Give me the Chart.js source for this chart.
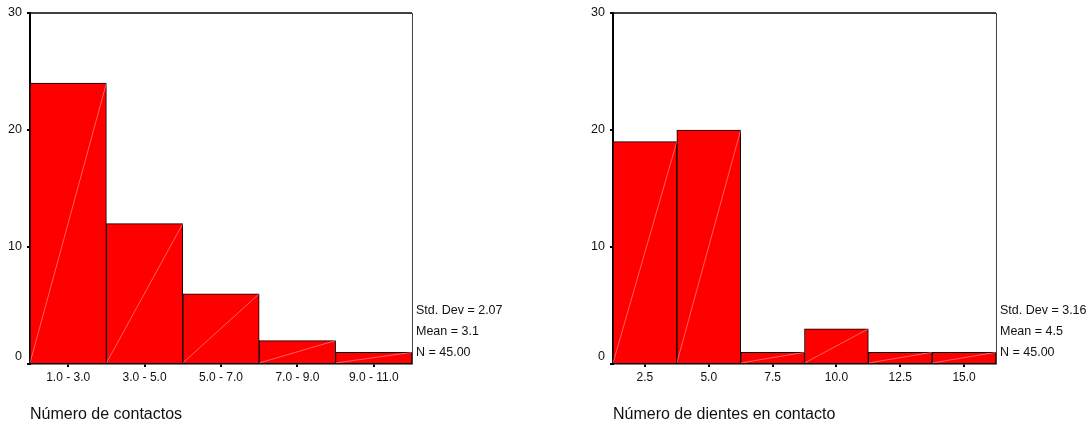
<!DOCTYPE html>
<html>
<head>
<meta charset="utf-8">
<script src="https://cdn.jsdelivr.net/npm/chart.js@4/dist/chart.umd.min.js"></script>
<style>
  html, body { margin: 0; padding: 0; background: #fff; }
  #wrap { position: relative; width: 1090px; height: 426px; overflow: hidden; }
  canvas { position: absolute; top: 0; }
  .stats { position: absolute; top: 300px; font: 12.5px "Liberation Sans", Arial, sans-serif; line-height: 21px; color: #111; white-space: nowrap; }
</style>
</head>
<body>
<div id="wrap">
  <canvas id="contactos" width="545" height="426" style="left:0"></canvas>
  <canvas id="dientes" width="545" height="426" style="left:545px"></canvas>
  <div class="stats" id="statsA" style="left:416px"></div>
  <div class="stats" id="statsB" style="left:1000px"></div>
</div>
<script>
// Número de contactos: class intervals and counts
const contactBins = ['1.0 - 3.0', '3.0 - 5.0', '5.0 - 7.0', '7.0 - 9.0', '9.0 - 11.0'];
const contactCounts = [24, 12, 6, 2, 1];
const contactStats = ['Std. Dev = 2.07', 'Mean = 3.1', 'N = 45.00'];

// Número de dientes en contacto: bin midpoints and counts
const teethBins = ['2.5', '5.0', '7.5', '10.0', '12.5', '15.0'];
const teethCounts = [19, 20, 1, 3, 1, 1];
const teethStats = ['Std. Dev = 3.16', 'Mean = 4.5', 'N = 45.00'];

// Shared frequency axis
const yTicks = [0, 10, 20, 30];

const FONT = '"Liberation Sans", Arial, sans-serif';

// Draws the faint diagonal in each bar plus the top/right frame of the plot
const framePlugin = {
  id: 'histFrame',
  afterDatasetsDraw(chart) {
    const { ctx } = chart;
    const meta = chart.getDatasetMeta(0);
    ctx.save();
    ctx.strokeStyle = 'rgba(255,255,255,0.55)';
    ctx.lineWidth = 0.7;
    meta.data.forEach(bar => {
      const p = bar.getProps(['x', 'y', 'base', 'width'], true);
      ctx.beginPath();
      ctx.moveTo(p.x - p.width / 2, p.base);
      ctx.lineTo(p.x + p.width / 2, p.y);
      ctx.stroke();
    });
    ctx.restore();
  },
  afterDraw(chart) {
    const { ctx, chartArea: a } = chart;
    ctx.save();
    ctx.strokeStyle = '#000';
    ctx.lineWidth = 1.5;
    ctx.beginPath();
    ctx.moveTo(a.left, a.top);
    ctx.lineTo(a.right, a.top);
    ctx.stroke();
    ctx.strokeStyle = '#444';
    ctx.lineWidth = 1;
    ctx.beginPath();
    ctx.moveTo(a.right + 0.5, a.top);
    ctx.lineTo(a.right + 0.5, a.bottom);
    ctx.stroke();
    ctx.restore();
  }
};

function histogram(id, labels, counts, title, padLeft, padRight) {
  return new Chart(document.getElementById(id), {
    type: 'bar',
    data: {
      labels: labels,
      datasets: [{
        data: counts,
        backgroundColor: '#ff0000',
        borderColor: '#000',
        borderWidth: 1,
        borderSkipped: 'bottom',
        barPercentage: 1,
        categoryPercentage: 1
      }]
    },
    options: {
      responsive: false,
      animation: false,
      devicePixelRatio: 1,
      layout: { padding: { top: 13, left: padLeft, right: padRight, bottom: 0 } },
      plugins: { legend: { display: false }, tooltip: { enabled: false } },
      scales: {
        x: {
          offset: true,
          grid: { display: true, drawOnChartArea: false, offset: false, tickLength: 3, color: '#000', lineWidth: 2 },
          border: { display: true, color: '#000', width: 1.5 },
          ticks: { color: '#111', font: { family: FONT, size: 12 }, padding: 3, maxRotation: 0, autoSkip: false },
          title: { display: true, text: title, align: 'start', color: '#111', font: { family: FONT, size: 16 }, padding: { top: 0, bottom: 2 } },
          afterFit(scale) { scale.height = 62; }
        },
        y: {
          min: 0, max: 30,
          afterBuildTicks(scale) { scale.ticks = yTicks.map(v => ({ value: v })); },
          grid: { display: true, drawOnChartArea: false, tickLength: 3, color: '#000', lineWidth: 2 },
          border: { display: true, color: '#000', width: 2 },
          // the zero label sits a little above its tick
          ticks: { color: '#111', font: { family: FONT, size: 12.5 }, padding: 5,
                   callback: v => (v === 0 ? ['0', ''] : String(v)) },
          afterFit(scale) { scale.width = 30; }
        }
      }
    },
    plugins: [framePlugin]
  });
}

histogram('contactos', contactBins, contactCounts, 'Número de contactos', 0, 133);
histogram('dientes', teethBins, teethCounts, 'Número de dientes en contacto', 38, 94);

function writeStats(id, lines) {
  const el = document.getElementById(id);
  lines.forEach(t => { const d = document.createElement('div'); d.textContent = t; el.appendChild(d); });
}
writeStats('statsA', contactStats);
writeStats('statsB', teethStats);
</script>
</body>
</html>
